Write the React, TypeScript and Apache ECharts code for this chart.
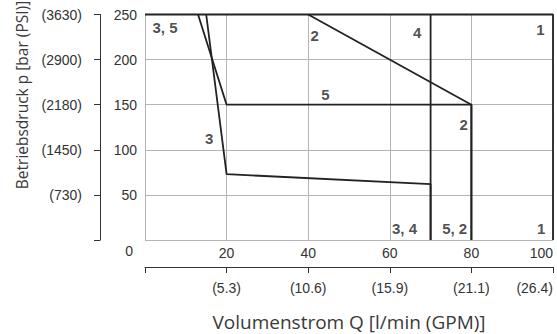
import React, { useEffect, useRef } from "react";
import * as echarts from "echarts";

// Data (flow in l/min, pressure in bar)
const flowTicks = [0, 20, 40, 60, 80, 100];
const gpmLabels = ["", "(5.3)", "(10.6)", "(15.9)", "(21.1)", "(26.4)"];
const barTicks = [0, 50, 100, 150, 200, 250];
const psiLabels = ["", "(730)", "(1450)", "(2180)", "(2900)", "(3630)"];

const curve1 = [[0, 250], [100, 250], [100, 0]];
const curve2 = [[40, 250], [80, 150], [80, 0]];
const curve3 = [[15, 250], [20, 73], [70, 62], [70, 0]];
const curve4 = [[70, 250], [70, 0]];
const curve5 = [[13, 250], [20, 150], [80, 150], [80, 0]];

const curveLabels: [number, number, string][] = [
  [4.9, 236, "3, 5"],
  [41.6, 227, "2"],
  [44.2, 161, "5"],
  [66.7, 229.5, "4"],
  [96.9, 233, "1"],
  [78.1, 127.5, "2"],
  [15.7, 112.7, "3"],
  [63.6, 13, "3, 4"],
  [75.9, 13, "5, 2"],
  [97.1, 13, "1"],
];

const LINE = "#222222";
const GRID = "#b4b4b4";
const TXT = "#333333";
const TICKFONT = "'Liberation Sans', Arial, sans-serif";

export default function App() {
  const ref = useRef<HTMLDivElement>(null);
  useEffect(() => {
    if (!ref.current) return;
    const chart = echarts.init(ref.current, undefined, { renderer: "svg" });
    const lineSeries = (name: string, data: number[][]) => ({
      name,
      type: "line",
      data,
      xAxisIndex: 0,
      yAxisIndex: 0,
      symbol: "none",
      clip: false,
      lineStyle: { color: LINE, width: 1.8 },
      z: 3,
    });
    chart.setOption({
      animation: false,
      grid: {
        left: 145,
        top: 14.5,
        right: 4,
        bottom: 94,
        containLabel: false,
        outerBoundsMode: "none",
      },
      graphic: [
        {
          type: "text",
          x: 22,
          y: 95,
          rotation: Math.PI / 2,
          style: {
            text: "Betriebsdruck p [bar (PSI)]",
            fontFamily: "'Open Sans', sans-serif",
            fontSize: 15.5,
            fill: "#3a3a3a",
            align: "center",
            verticalAlign: "middle",
          },
        },
      ],
      xAxis: [
        {
          type: "value",
          min: 0,
          max: flowTicks[flowTicks.length - 1],
          interval: 20,
          position: "bottom",
          axisLine: { show: false, onZero: false },
          axisTick: { show: false },
          splitLine: { show: true, lineStyle: { color: GRID, width: 1 } },
          axisLabel: {
            fontFamily: TICKFONT,
            fontSize: 14,
            color: TXT,
            margin: 6,
            alignMaxLabel: "right",
            formatter: (v: number) => (v === 0 ? "" : String(v)),
          },
        },
        {
          type: "value",
          min: 0,
          max: flowTicks[flowTicks.length - 1],
          interval: 20,
          position: "bottom",
          offset: 27,
          axisLine: { show: true, onZero: false, lineStyle: { color: TXT, width: 1 } },
          axisTick: { show: true, length: 6, lineStyle: { color: TXT, width: 1 } },
          splitLine: { show: false },
          axisLabel: {
            fontFamily: TICKFONT,
            fontSize: 14,
            color: TXT,
            margin: 14,
            alignMaxLabel: "right",
            formatter: (v: number) => gpmLabels[flowTicks.indexOf(v)] ?? "",
          },
          name: "Volumenstrom Q [l/min (GPM)]",
          nameLocation: "middle",
          nameGap: 45,
          nameTextStyle: { fontFamily: "'Open Sans', sans-serif", fontSize: 19, color: "#3a3a3a" },
        },
      ],
      yAxis: [
        {
          type: "value",
          min: 0,
          max: 250,
          interval: 50,
          position: "left",
          axisLine: { show: false, onZero: false },
          axisTick: { show: false },
          splitLine: { show: true, lineStyle: { color: GRID, width: 1 } },
          axisLabel: {
            fontFamily: TICKFONT,
            fontSize: 14,
            color: TXT,
            margin: 8,
            formatter: (v: number) => (v === 0 ? "{z|0}" : String(v)),
            rich: { z: { fontFamily: TICKFONT, fontSize: 14, color: TXT, padding: [22, 4, 0, 0] } },
          },
        },
        {
          type: "value",
          min: 0,
          max: 250,
          interval: 50,
          position: "left",
          offset: 45,
          axisLine: { show: true, onZero: false, lineStyle: { color: TXT, width: 1 } },
          axisTick: { show: true, length: 6, lineStyle: { color: TXT, width: 1 } },
          splitLine: { show: false },
          axisLabel: {
            fontFamily: TICKFONT,
            fontSize: 14,
            color: TXT,
            margin: 18,
            formatter: (v: number) => psiLabels[barTicks.indexOf(v)] ?? "",
          },
        },
      ],
      series: [
        lineSeries("1", curve1),
        lineSeries("2", curve2),
        lineSeries("3", curve3),
        lineSeries("4", curve4),
        lineSeries("5", curve5),
        {
          type: "scatter",
          xAxisIndex: 0,
          yAxisIndex: 0,
          symbolSize: 1,
          itemStyle: { color: "rgba(0,0,0,0)" },
          data: curveLabels,
          z: 4,
          label: {
            show: true,
            position: "inside",
            formatter: (p: any) => p.data[2],
            fontFamily: "'Liberation Sans Narrow', 'Arial Narrow', 'Liberation Sans', sans-serif",
            fontWeight: "bold",
            fontSize: 15,
            color: "#222",
          },
        },
      ],
    });
    return () => chart.dispose();
  }, []);
  return (
    <div
      ref={ref}
      style={{ position: "fixed", left: 0, top: 0, width: 557, height: 334, background: "#fff" }}
    />
  );
}
